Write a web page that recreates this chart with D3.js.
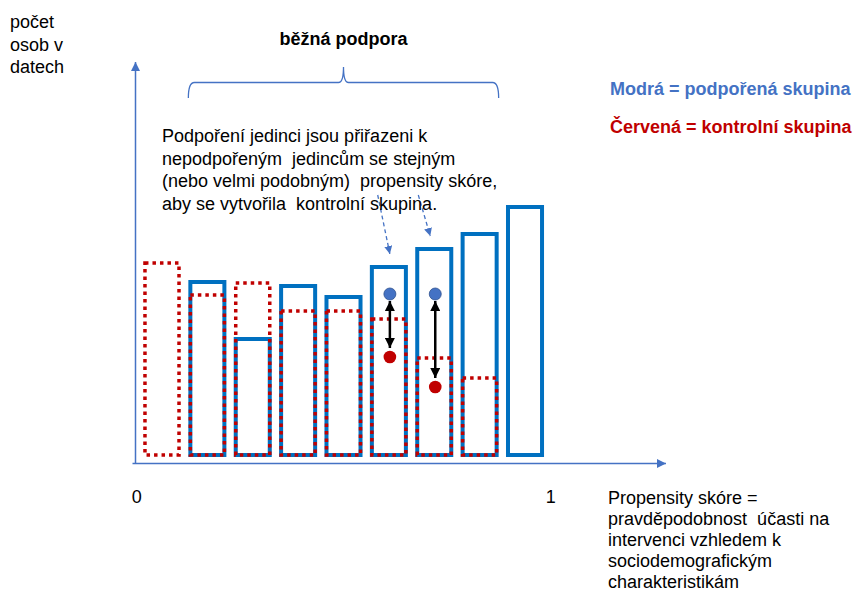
<!DOCTYPE html>
<html>
<head>
<meta charset="utf-8">
<script src="https://cdn.jsdelivr.net/npm/d3@7"></script>
<style>
  html, body { margin: 0; padding: 0; background: #fff; }
  svg { display: block; font-family: "Liberation Sans", Arial, sans-serif; }
  text { white-space: pre; }
</style>
</head>
<body>
<svg id="chart" width="859" height="593"></svg>
<script>
// ---- data ----
const bins = ["1", "2", "3", "4", "5", "6", "7", "8", "9"];
const treatedCounts = [null, 86.5, 58, 84.5, 79, 94, 103, 110.5, 124];   // Modrá
const controlCounts = [96, 80, 86, 72, 72, 68, 48.5, 38.5, null];        // Červená
const matchedPairs = [
  { bin: "6", treated: 80.5, control: 49 },
  { bin: "7", treated: 80.5, control: 34 }
];
const supportBins = ["2", "8"];
const xTickValues = [0, 1];
const yLabelLines = ["počet", "osob v", "datech"];
const xLabelLines = ["Propensity skóre =", "pravděpodobnost  účasti na", "intervenci vzhledem k", "sociodemografickým", "charakteristikám"];
const noteLines = ["Podpoření jedinci jsou přiřazeni k", "nepodpořeným  jedincům se stejným", "(nebo velmi podobným)  propensity skóre,", "aby se vytvořila  kontrolní skupina."];
const supportLabel = "běžná podpora";
const legendItems = [
  { text: "Modrá = podpořená skupina", color: "#4472C4" },
  { text: "Červená = kontrolní skupina", color: "#C00000" }
];

// ---- setup ----
const svg = d3.select("#chart");
const axisColor = "#4472C4";
const blue = "#0070C0";
const red = "#C00000";
const fs = 18;

const xProp = d3.scaleLinear().domain([0, 1]).range([139.3, 547.7]);
const xBand = d3.scaleBand().domain(bins).range([xProp(0), xProp(1)]).paddingInner(0.25).paddingOuter(0.125);
const y = d3.scaleLinear().domain([0, 200]).range([455, 55]);

const defs = svg.append("defs");
function marker(id, color, w, h) {
  defs.append("marker").attr("id", id).attr("viewBox", "0 0 10 10")
    .attr("refX", 10).attr("refY", 5).attr("markerWidth", w).attr("markerHeight", h)
    .attr("markerUnits", "userSpaceOnUse").attr("orient", "auto-start-reverse")
    .append("path").attr("d", "M0,0 L10,5 L0,10 Z").attr("fill", color);
}
marker("axArrow", axisColor, 9, 9);
marker("dashArrow", axisColor, 8, 8);
marker("blkArrow", "#000", 11, 10);

// ---- axes ----
const axisY = 463.5, axisX = 135.5;
svg.append("line").attr("x1", axisX).attr("x2", axisX).attr("y1", axisY + 0.5).attr("y2", 62)
  .attr("stroke", axisColor).attr("stroke-width", 1.5).attr("marker-end", "url(#axArrow)");
svg.append("line").attr("x1", axisX - 3).attr("x2", 666).attr("y1", axisY).attr("y2", axisY)
  .attr("stroke", axisColor).attr("stroke-width", 1.5).attr("marker-end", "url(#axArrow)");

// tick labels 0 and 1
svg.append("g").selectAll("text").data(xTickValues).join("text")
  .attr("x", d => xProp(d) + (d === 0 ? -2.5 : 3))
  .attr("y", 503).attr("text-anchor", "middle").attr("font-size", fs).attr("fill", "#000")
  .text(d => d);

// ---- bars ----
const blueData = bins.map((b, i) => ({ b, v: treatedCounts[i] })).filter(d => d.v != null);
const redData = bins.map((b, i) => ({ b, v: controlCounts[i] })).filter(d => d.v != null);

svg.append("g").selectAll("rect").data(blueData).join("rect")
  .attr("x", d => xBand(d.b)).attr("width", xBand.bandwidth())
  .attr("y", d => y(d.v)).attr("height", d => y(0) - y(d.v))
  .attr("fill", "none").attr("stroke", blue).attr("stroke-width", 4);

svg.append("g").selectAll("rect").data(redData).join("rect")
  .attr("x", d => xBand(d.b)).attr("width", xBand.bandwidth())
  .attr("y", d => y(d.v)).attr("height", d => y(0) - y(d.v))
  .attr("fill", "none").attr("stroke", red).attr("stroke-width", 3.5)
  .attr("stroke-dasharray", "3.5,4");

// ---- matched pairs ----
const cx = d => xBand(d.bin) + xBand.bandwidth() / 2 + 1;
const pairs = svg.append("g");
pairs.selectAll("line").data(matchedPairs).join("line")
  .attr("x1", cx).attr("x2", cx)
  .attr("y1", d => y(d.treated) + 7).attr("y2", d => y(d.control) - 9)
  .attr("stroke", "#000").attr("stroke-width", 2.5)
  .attr("marker-start", "url(#blkArrow)").attr("marker-end", "url(#blkArrow)");
pairs.selectAll("circle.t").data(matchedPairs).join("circle").attr("class", "t")
  .attr("cx", cx).attr("cy", d => y(d.treated)).attr("r", 6)
  .attr("fill", "#4472C4").attr("stroke", "#2F528F").attr("stroke-width", 0.8);
pairs.selectAll("circle.c").data(matchedPairs).join("circle").attr("class", "c")
  .attr("cx", cx).attr("cy", d => y(d.control)).attr("r", 6.3)
  .attr("fill", red);

// ---- dashed pointer arrows ----
const pointers = [
  { x1: 377.7, y1: 195, bin: "6", dx: 1, val: treatedCounts[5] },
  { x1: 418.3, y1: 195, bin: "7", dx: -4, val: treatedCounts[6] }
];
svg.append("g").selectAll("line").data(pointers).join("line")
  .attr("x1", d => d.x1).attr("y1", d => d.y1)
  .attr("x2", d => xBand(d.bin) + xBand.bandwidth() / 2 + d.dx)
  .attr("y2", d => y(d.val) - 13)
  .attr("stroke", axisColor).attr("stroke-width", 1.3).attr("stroke-dasharray", "4,3")
  .attr("marker-end", "url(#dashArrow)");

// ---- brace over common support ----
const bx0 = xBand(supportBins[0]) - 2, bx1 = xBand(supportBins[1]) + xBand.bandwidth() + 2;
const bm = (bx0 + bx1) / 2, by = 82.5;
svg.append("path")
  .attr("d", `M${bx0},98 Q${bx0},${by} ${bx0 + 6},${by} L${bm - 5},${by} Q${bm},${by} ${bm},67 Q${bm},${by} ${bm + 5},${by} L${bx1 - 6},${by} Q${bx1},${by} ${bx1},98`)
  .attr("fill", "none").attr("stroke", axisColor).attr("stroke-width", 1.3);
svg.append("text").attr("x", bm).attr("y", 45).attr("text-anchor", "middle")
  .attr("font-size", fs).attr("font-weight", "bold").attr("fill", "#000").text(supportLabel);

// ---- texts ----
svg.append("g").selectAll("text").data(yLabelLines).join("text")
  .attr("x", 10).attr("y", (d, i) => 28 + i * 22.5).attr("font-size", fs).attr("fill", "#000").text(d => d);

svg.append("g").selectAll("text").data(xLabelLines).join("text")
  .attr("x", 608).attr("y", (d, i) => 504 + i * 21.1).attr("font-size", fs).attr("fill", "#000").text(d => d);

svg.append("g").selectAll("text").data(noteLines).join("text")
  .attr("x", 162).attr("y", (d, i) => 142 + i * 22.5).attr("font-size", fs).attr("fill", "#000").text(d => d);

svg.append("g").selectAll("text").data(legendItems).join("text")
  .attr("x", 610).attr("y", (d, i) => 95 + i * 38).attr("font-size", fs).attr("font-weight", "bold")
  .attr("fill", d => d.color).text(d => d.text);
</script>
</body>
</html>
